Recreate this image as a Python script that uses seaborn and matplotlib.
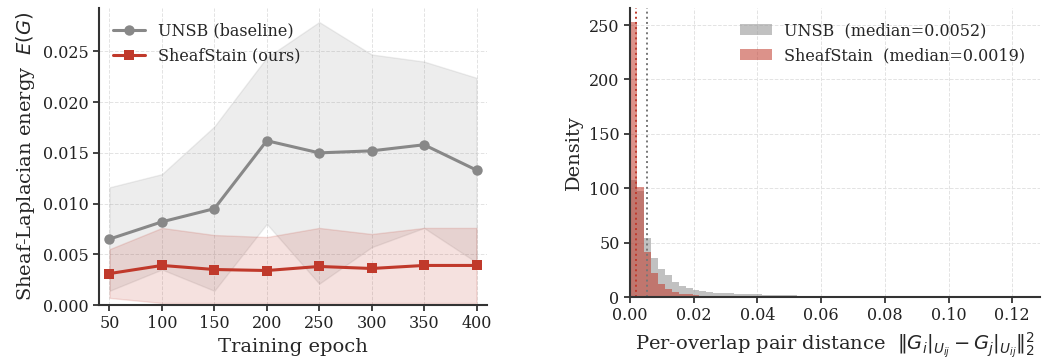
import numpy as np
import pandas as pd
import matplotlib
matplotlib.use("Agg")
import matplotlib.pyplot as plt
import seaborn as sns

# ---------------- data ----------------
epochs = [50, 100, 150, 200, 250, 300, 350, 400]
unsb_mean = [0.0065, 0.0082, 0.0095, 0.0162, 0.0150, 0.0152, 0.0158, 0.0133]
unsb_std = [0.0051, 0.0047, 0.0081, 0.0082, 0.0129, 0.0095, 0.0082, 0.0091]
sheaf_mean = [0.0031, 0.0039, 0.0035, 0.0034, 0.0038, 0.0036, 0.0039, 0.0039]
sheaf_std = [0.0024, 0.0037, 0.0034, 0.0033, 0.0038, 0.0034, 0.0037, 0.0037]

bin_width = 0.00218
unsb_density = [108, 97, 54, 36, 26, 20, 14, 10, 8, 6.8, 5.5, 4.6, 4.0, 3.6, 3.3,
                3.0, 2.8, 2.6, 2.4, 2.2, 2.0, 1.8, 1.6, 1.4, 1.3, 1.1, 1.0, 0.9,
                0.8, 0.7, 0.6, 0.5, 0.4]
sheaf_density = [253, 101, 41, 22, 11.5, 7, 5, 3, 2.3, 1.6, 1.2, 0.9]
unsb_median = 0.0052
sheaf_median = 0.0019

GRAY = "#888888"
RED = "#c0392b"

sns.set_theme(style="ticks")
plt.rcParams["font.family"] = ["DejaVu Serif"]
plt.rcParams["mathtext.fontset"] = "dejavusans"

fig = plt.figure(figsize=(10.42, 3.62), dpi=100)
ax1 = fig.add_axes([99 / 1042, 1 - 305 / 362, (487 - 99) / 1042, (305 - 8) / 362])
ax2 = fig.add_axes([630 / 1042, 1 - 297 / 362, (1040 - 630) / 1042, (297 - 8) / 362])

# ---------------- left panel ----------------
df = pd.DataFrame({
    "epoch": epochs * 2,
    "energy": unsb_mean + sheaf_mean,
    "method": ["UNSB (baseline)"] * len(epochs) + ["SheafStain (ours)"] * len(epochs),
})
um, us = np.array(unsb_mean), np.array(unsb_std)
sm, ss = np.array(sheaf_mean), np.array(sheaf_std)
ax1.fill_between(epochs, um - us, um + us, color=GRAY, alpha=0.15, edgecolor=GRAY, linewidth=1.0)
ax1.fill_between(epochs, np.clip(sm - ss, 0.0002, None), sm + ss, color=RED, alpha=0.15,
                 edgecolor=RED, linewidth=1.0)
sns.lineplot(data=df, x="epoch", y="energy", hue="method", style="method",
             markers={"UNSB (baseline)": "o", "SheafStain (ours)": "s"}, dashes=False,
             palette={"UNSB (baseline)": GRAY, "SheafStain (ours)": RED},
             linewidth=2.2, markersize=7.5, markeredgewidth=0, ax=ax1)
ax1.set_xlim(40, 410)
ax1.set_ylim(bottom=0)
ax1.set_xticks(epochs)
ax1.set_yticks([0, 0.005, 0.010, 0.015, 0.020, 0.025])
ax1.yaxis.set_major_formatter(matplotlib.ticker.FormatStrFormatter("%.3f"))
ax1.set_xlabel("Training epoch", fontsize=14)
ax1.set_ylabel("Sheaf-Laplacian energy  $E(G)$", fontsize=14)
ax1.grid(True, linestyle="--", linewidth=0.7, color="#e3e3e3")
ax1.legend(loc="upper left", frameon=False, fontsize=11.5, title=None)

# ---------------- right panel ----------------
hu = pd.DataFrame({"x": (np.arange(len(unsb_density)) + 0.5) * bin_width, "w": unsb_density})
hs = pd.DataFrame({"x": (np.arange(len(sheaf_density)) + 0.5) * bin_width, "w": sheaf_density})
sns.histplot(data=hu, x="x", weights="w", binwidth=bin_width,
             binrange=(0, len(unsb_density) * bin_width), element="step", fill=True,
             color="#999999", alpha=0.6, linewidth=0, ax=ax2,
             label=f"UNSB  (median={unsb_median:.4f})")
sns.histplot(data=hs, x="x", weights="w", binwidth=bin_width,
             binrange=(0, len(sheaf_density) * bin_width), element="step", fill=True,
             color=RED, alpha=0.55, linewidth=0, ax=ax2,
             label=f"SheafStain  (median={sheaf_median:.4f})")
ax2.axvline(unsb_median, color="#777777", linestyle=":", linewidth=1.4)
ax2.axvline(sheaf_median, color=RED, linestyle=":", linewidth=1.4)
ax2.set_xlim(0, 0.1287)
ax2.set_xticks([0, 0.02, 0.04, 0.06, 0.08, 0.10, 0.12])
ax2.xaxis.set_major_formatter(matplotlib.ticker.FormatStrFormatter("%.2f"))
ax2.set_yticks([0, 50, 100, 150, 200, 250])
ax2.set_ylabel("Density", fontsize=14)
ax2.set_xlabel(r"Per-overlap pair distance  $\|G_i|_{U_{ij}} - G_j|_{U_{ij}}\|_2^2$", fontsize=14)
ax2.grid(True, linestyle="--", linewidth=0.7, color="#e3e3e3")
ax2.legend(loc="upper right", frameon=False, fontsize=11.5)

for ax in (ax1, ax2):
    sns.despine(ax=ax)
    ax.set_axisbelow(True)
    for sp in ("left", "bottom"):
        ax.spines[sp].set_linewidth(1.5)
        ax.spines[sp].set_color("#333333")
    ax.tick_params(labelsize=11.5, width=1.2, length=4, colors="#222222")

fig.savefig("out.png", dpi=100)
